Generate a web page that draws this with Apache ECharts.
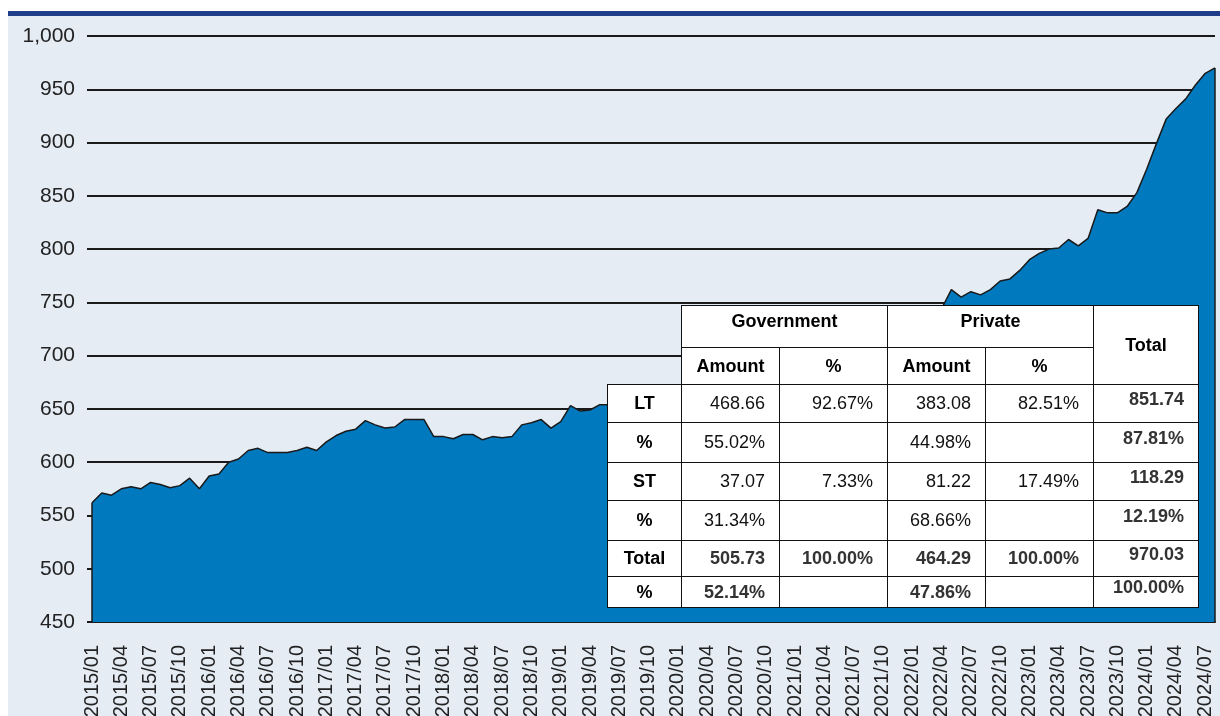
<!DOCTYPE html>
<html>
<head>
<meta charset="utf-8">
<script src="https://cdn.jsdelivr.net/npm/echarts@6/dist/echarts.min.js"></script>
<style>
    html, body { margin: 0; padding: 0; background: #fff; }
    #page { position: relative; width: 1220px; height: 716px; overflow: hidden; }
    #topbar { position: absolute; left: 8px; top: 11px; width: 1212px; height: 5px; background: #1f3d88; }
    #panel { position: absolute; left: 8px; top: 16px; width: 1212px; height: 700px; background: #e5ecf4; }
    #chart { position: absolute; left: 0; top: 0; width: 1220px; height: 716px; }
    #tbl {
        position: absolute; left: 607px; top: 305px;
        border-collapse: collapse; table-layout: fixed;
        font-family: "Liberation Sans", Arial, sans-serif; font-size: 18px; color: #111;
    }
    #tbl td { border: 1px solid #111; background: #fff; padding: 0 14px 0 0; text-align: right; white-space: nowrap; }
    #tbl td.blank { border: none; background: transparent; }
    #tbl td.hd { text-align: center; font-weight: bold; padding: 0; color: #000; }
    #tbl tr.bold td { font-weight: bold; color: #333; }
    #tbl td.tot { font-weight: bold; color: #333; padding-bottom: 9px; }
    #tbl tr td.rh { text-align: center; font-weight: bold; padding: 0; color: #000; }
</style>
</head>
<body>
<div id="page">
    <div id="topbar"></div>
    <div id="panel"></div>
    <div id="chart"></div>
    <table id="tbl"></table>
</div>
<script>
// monthly categories 2015/01 .. 2024/08
const startYear = 2015
const monthCount = 116
const categories = []
for (let i = 0; i < monthCount; i++) {
    let y = startYear + Math.floor(i / 12)
    let m = (i % 12) + 1
    categories.push(y + '/' + (m < 10 ? '0' + m : m))
}

// values (months hidden behind the table are estimates)
const values2015 = [562, 571, 569, 575, 577, 575, 581, 579, 576, 578, 585, 575]
const values2016 = [587, 589, 600, 603, 611, 613, 609, 609, 609, 611, 614, 611]
const values2017 = [619, 625, 629, 631, 639, 635, 632, 633, 640, 640, 640, 624]
const values2018 = [624, 622, 626, 626, 621, 624, 623, 624, 635, 637, 640, 632]
const values2019 = [638, 653, 648, 649, 654, 654, 656, 658, 655, 660, 662, 664]
const values2020 = [661, 659, 663, 668, 672, 675, 679, 684, 683, 688, 692, 690]
const values2021 = [697, 701, 706, 709, 714, 712, 718, 722, 726, 724, 729, 733]
const values2022 = [737, 735, 740, 744, 762, 755, 760, 757, 762, 770, 772, 780]
const values2023 = [790, 796, 800, 801, 809, 803, 810, 837, 834, 834, 840, 853]
const values2024 = [875, 899, 922, 932, 941, 954, 965, 970.03]
const seriesValues = [].concat(values2015, values2016, values2017, values2018, values2019,
    values2020, values2021, values2022, values2023, values2024)

const yTicks = { min: 450, max: 1000, interval: 50 }

// table figures
const rowLabels = ['LT', '%', 'ST', '%', 'Total', '%']
const govAmount = ['468.66', '55.02%', '37.07', '31.34%', '505.73', '52.14%']
const govPct = ['92.67%', '', '7.33%', '', '100.00%', '']
const privAmount = ['383.08', '44.98%', '81.22', '68.66%', '464.29', '47.86%']
const privPct = ['82.51%', '', '17.49%', '', '100.00%', '']
const totalCol = ['851.74', '87.81%', '118.29', '12.19%', '970.03', '100.00%']

function buildTable() {
    let colW = [74, 98, 108, 98, 108, 105]
    let rowH = [38, 40, 38, 40, 36, 31]
    let html = '<colgroup>' + colW.map(w => '<col style="width:' + w + 'px">').join('') + '</colgroup>'
    html += '<tr style="height:42px"><td class="blank" rowspan="2"></td>' +
        '<td class="hd" colspan="2" style="vertical-align:top;padding-top:5px">Government</td>' +
        '<td class="hd" colspan="2" style="vertical-align:top;padding-top:5px">Private</td>' +
        '<td class="hd" rowspan="2">Total</td></tr>'
    html += '<tr style="height:37px"><td class="hd">Amount</td><td class="hd">%</td>' +
        '<td class="hd">Amount</td><td class="hd">%</td></tr>'
    rowLabels.forEach((lab, i) => {
        let cls = i >= 4 ? ' class="bold"' : ''
        html += '<tr' + cls + ' style="height:' + rowH[i] + 'px">' +
            '<td class="rh">' + lab + '</td>' +
            '<td>' + govAmount[i] + '</td>' +
            '<td>' + govPct[i] + '</td>' +
            '<td>' + privAmount[i] + '</td>' +
            '<td>' + privPct[i] + '</td>' +
            '<td class="tot">' + totalCol[i] + '</td></tr>'
    })
    document.getElementById('tbl').innerHTML = html
}
buildTable()

let myChart = echarts.init(document.getElementById('chart'))
let lastIdx = seriesValues.length - 1
let option = {
    animation: false,
    backgroundColor: 'transparent',
    grid: { left: 92, right: 5, top: 36, bottom: 94, containLabel: false, outerBoundsMode: 'none' },
    xAxis: {
        type: 'category',
        data: categories,
        boundaryGap: false,
        axisLine: { show: true, lineStyle: { color: '#1a1a1a', width: 2 } },
        axisTick: { show: false },
        axisLabel: {
            interval: 2,
            rotate: 90,
            margin: 23,
            fontSize: 20,
            color: '#222',
            fontFamily: 'Liberation Sans, Arial, sans-serif'
        },
        splitLine: { show: false }
    },
    yAxis: {
        type: 'value',
        min: yTicks.min,
        max: yTicks.max,
        interval: yTicks.interval,
        axisLine: { show: false },
        axisTick: { show: true, length: 5, lineStyle: { color: '#1a1a1a', width: 2 } },
        axisLabel: {
            margin: 17,
            fontSize: 21,
            color: '#222',
            fontFamily: 'Liberation Sans, Arial, sans-serif',
            formatter: v => v.toLocaleString('en-US')
        },
        splitLine: { show: true, lineStyle: { color: '#1a1a1a', width: 2 } }
    },
    series: [{
        type: 'line',
        data: seriesValues,
        symbol: 'none',
        lineStyle: { color: '#1a1a1a', width: 1.5 },
        areaStyle: { color: '#0079bf', opacity: 1 },
        z: 3,
        markLine: {
            silent: true,
            symbol: 'none',
            label: { show: false },
            lineStyle: { color: '#1a1a1a', width: 1.5, type: 'solid' },
            data: [
                [{ coord: [categories[0], yTicks.min] }, { coord: [categories[0], seriesValues[0]] }],
                [{ coord: [categories[lastIdx], yTicks.min] }, { coord: [categories[lastIdx], seriesValues[lastIdx]] }]
            ]
        }
    }]
}
myChart.setOption(option)
</script>
</body>
</html>
